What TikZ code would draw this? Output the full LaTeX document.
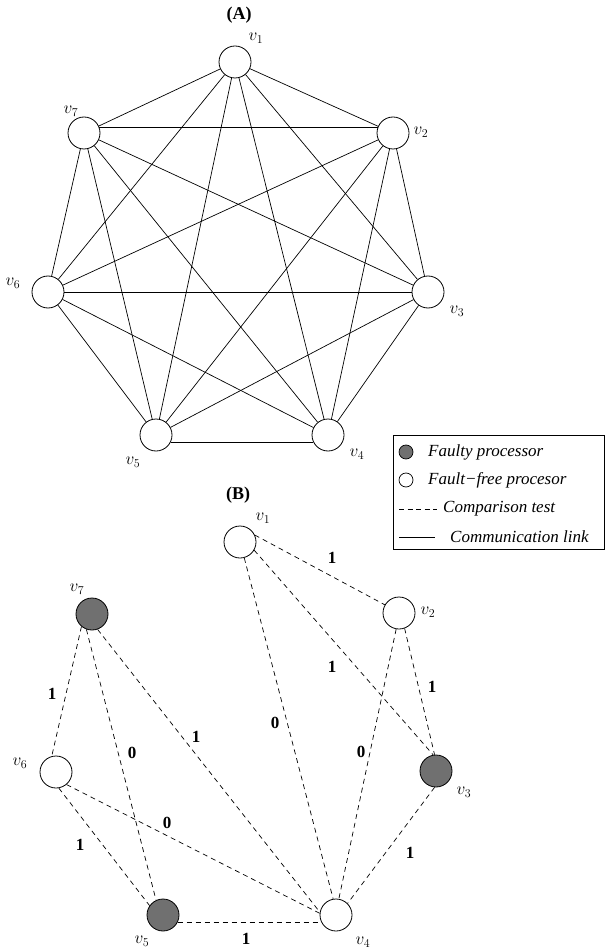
\documentclass[tikz,border=0pt]{standalone}
\usepackage{fontspec}
\setmainfont{Liberation Serif}
\definecolor{faultgray}{RGB}{112,112,112}
\tikzset{
  proc/.style={circle,draw,line width=0.8pt,minimum size=32pt,inner sep=0pt,fill=white},
  faulty/.style={proc,fill=faultgray},
  link/.style={line width=0.7pt},
  test/.style={line width=0.7pt,dash pattern=on 5pt off 4pt},
  vlab/.style={inner sep=0pt,font=\fontsize{17}{19}\selectfont},
  elab/.style={inner sep=0pt,font=\fontsize{17}{20}\selectfont\bfseries},
  ttl/.style={inner sep=0pt,font=\fontsize{18}{21}\selectfont\bfseries},
  legtext/.style={inner sep=0pt,anchor=west,font=\fontsize{17}{20}\selectfont\itshape},
  legdot/.style={circle,draw,line width=0.7pt,minimum size=14pt,inner sep=0pt}
}
\begin{document}
\begin{tikzpicture}[x=1pt,y=-1pt]
\useasboundingbox (0,0) rectangle (605,949);
% ---------------- (A) ----------------
\node[ttl] (tA) at (239,15) {(A)};
\node[proc] (a1) at (235,62) {};
\node[proc] (a2) at (393,133) {};
\node[proc] (a3) at (428,292) {};
\node[proc] (a4) at (328,435) {};
\node[proc] (a5) at (156,435) {};
\node[proc] (a6) at (48,292) {};
\node[proc] (a7) at (84,133) {};
\foreach \i/\j in {1/2,1/3,1/4,1/5,1/6,1/7,2/3,2/4,2/5,2/6,3/4,3/5,3/7,4/6,4/7,5/6,5/7,6/7}
  \draw[link] (a\i) -- (a\j);
\draw[link] (a7.22) -- (a2.158);
\draw[link] (a6) -- (a3);
\draw[link] (a5.-26) -- (a4.206);
\node[vlab] (la1) at (256,38) {$v_1$};
\node[vlab] (la2) at (421,132) {$v_2$};
\node[vlab] (la3) at (457,311) {$v_3$};
\node[vlab] (la4) at (357,454) {$v_4$};
\node[vlab] (la5) at (133,462) {$v_5$};
\node[vlab] (la6) at (13,283) {$v_6$};
\node[vlab] (la7) at (71,111) {$v_7$};
% ---------------- Legend ----------------
\node[draw,line width=0.8pt,minimum width=211pt,minimum height=114pt,inner sep=0pt,anchor=north west] (legend) at (393,435) {};
\node[legdot,fill=faultgray] (ldf) at (406,452) {};
\node[legtext] (ltf) at (428,452) {Faulty processor};
\node[legdot,fill=white] (ldo) at (406,480) {};
\node[legtext] (lto) at (428,480) {Fault−free procesor};
\coordinate (ld1) at (399,509);
\coordinate (ld2) at (437,509);
\draw[line width=0.7pt,dash pattern=on 5pt off 3.5pt] (ld1) -- (ld2);
\node[legtext] (ltd) at (443,509) {Comparison test};
\coordinate (ls1) at (399,537);
\coordinate (ls2) at (435,537);
\draw[link] (ls1) -- (ls2);
\node[legtext] (lts) at (450,537) {Communication link};
% ---------------- (B) ----------------
\node[ttl] (tB) at (238,495) {(B)};
\node[proc] (b1) at (240,542) {};
\node[proc] (b2) at (399,613) {};
\node[faulty] (b3) at (436,771) {};
\node[proc] (b4) at (336,915) {};
\node[faulty] (b5) at (163,915) {};
\node[proc] (b6) at (56,772) {};
\node[faulty] (b7) at (92,614) {};
\draw[test] (b1.25) -- (b2.150);
\draw[test] (b1.-30) -- (b3.100);
\draw[test] (b1.-75) -- (b4.100);
\draw[test] (b2.-100) -- (b4.80);
\draw[test] (b2.-70) -- (b3.95);
\draw[test] (b7.-130) -- (b6.105);
\draw[test] (b7.-110) -- (b5.115);
\draw[test] (b7.-70) -- (b4.170);
\draw[test] (b6.-50) -- (b4.174);
\draw[test] (b6.-80) -- (b5.145);
\draw[test] (b3.-95) -- (b4.45);
\draw[test] (b5.-26) -- (b4.206);
\node[vlab] (lb1) at (263,518) {$v_1$};
\node[vlab] (lb2) at (428,612) {$v_2$};
\node[vlab] (lb3) at (464,792) {$v_3$};
\node[vlab] (lb4) at (363,942) {$v_4$};
\node[vlab] (lb5) at (142,941) {$v_5$};
\node[vlab] (lb6) at (20,763) {$v_6$};
\node[vlab] (lb7) at (77,589) {$v_7$};
\node[elab] (e12) at (332,558) {1};
\node[elab] (e13) at (332,667) {1};
\node[elab] (e14) at (275,723) {0};
\node[elab] (e24) at (361,752) {0};
\node[elab] (e23) at (432,687) {1};
\node[elab] (e76) at (52,694) {1};
\node[elab] (e75) at (132,753) {0};
\node[elab] (e74) at (196,737) {1};
\node[elab] (e64) at (167,823) {0};
\node[elab] (e65) at (80,845) {1};
\node[elab] (e34) at (410,853) {1};
\node[elab] (e54) at (246,939) {1};
\end{tikzpicture}
\end{document}
